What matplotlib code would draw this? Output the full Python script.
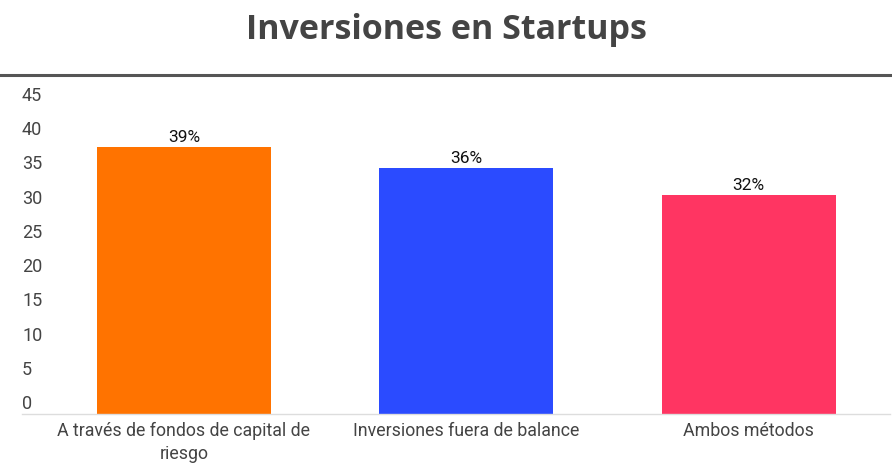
import matplotlib.pyplot as plt
from matplotlib.transforms import offset_copy

categories = ['A través de fondos de capital de\nriesgo', 'Inversiones fuera de balance', 'Ambos métodos']
values = [39, 36, 32]
labels = ['39%', '36%', '32%']
colors = ['#FF7300', '#2B4BFF', '#FF3562']
yticks = [0, 5, 10, 15, 20, 25, 30, 35, 40, 45]

plt.rcParams['font.family'] = ['Roboto', 'DejaVu Sans']

W, H = 892, 475
fig = plt.figure(figsize=(W / 100, H / 100), dpi=100)
ax = fig.add_axes([22 / W, (H - 414) / H, 868 / W, (414 - 106) / H])

x = range(len(categories))
bars = ax.bar(x, values, width=0.616, color=colors, zorder=2)
for b, lab in zip(bars, labels):
    ax.annotate(lab, (b.get_x() + b.get_width() / 2, b.get_height()),
                xytext=(0, 1.5), textcoords='offset points',
                ha='center', va='bottom', fontsize=12.5, color='#111111')

ax.set_xlim(-0.573, 2.5)
ax.set_ylim(0, 45)
ax.set_xticks(list(x))
ax.set_xticklabels(categories, fontsize=12.8, color='#444444', linespacing=1.3)
ax.tick_params(axis='x', length=0, pad=6)

ax.set_yticks([])
for t in yticks:
    ax.text(0, t, str(t), transform=offset_copy(ax.get_yaxis_transform(), fig=fig, x=0, y=1, units='dots'),
            ha='left', va='bottom', fontsize=13, color='#444444')

for s in ['top', 'right', 'left']:
    ax.spines[s].set_visible(False)
ax.spines['bottom'].set_color('#dddddd')
ax.spines['bottom'].set_linewidth(1)

fig.text(0.5, (H - 30) / H, 'Inversiones en Startups', ha='center', va='center',
         fontsize=24.5, fontweight='bold', color='#444444', family=['Open Sans', 'DejaVu Sans'])
fig.add_artist(plt.Line2D([0, 1], [(H - 75) / H] * 2, color='#555555', linewidth=2.2))

fig.savefig('out.png', dpi=100)
